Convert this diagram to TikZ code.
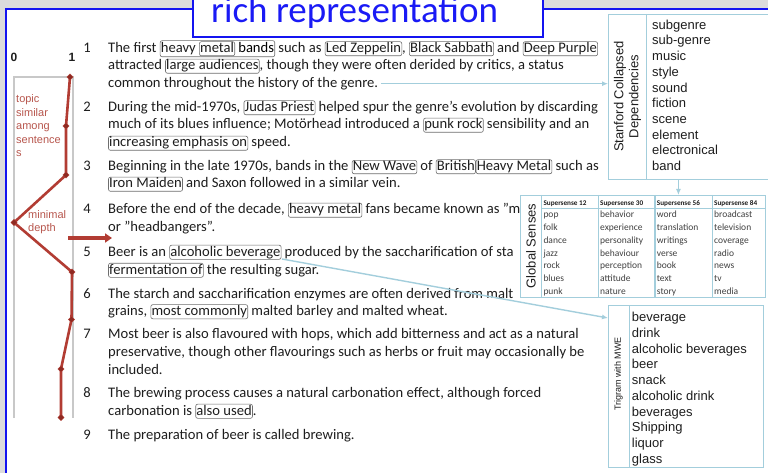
\documentclass[tikz,border=0pt]{standalone}
\usepackage{fontspec}
\setmainfont{Carlito}
\newfontfamily\arialfont{Liberation Sans}
\usepackage{tikz}
\usetikzlibrary{shapes.geometric, arrows.meta, positioning}

\definecolor{slidegray}{HTML}{DCDCDC}
\definecolor{slideblue}{HTML}{1414F0}
\definecolor{titleblue}{HTML}{1A1AF5}
\definecolor{panelblue}{HTML}{A3CEDC}
\definecolor{depthred}{HTML}{B23C33}
\definecolor{markred}{HTML}{8E2A22}
\definecolor{labelred}{HTML}{B8574E}
\definecolor{wordgray}{HTML}{6E6E6E}
\definecolor{axisgray}{HTML}{C8C8C8}
\definecolor{textblack}{HTML}{1E1E1E}

\tikzset{
    wordbox/.style={draw=wordgray, rounded corners=2pt, line width=0.6pt, inner sep=0.7pt, anchor=base},
    sentence/.style={anchor=base west, inner sep=0pt, text=textblack, font=\fontsize{14.6}{17.5}\selectfont},
    sentnum/.style={anchor=base, inner sep=0pt, text=textblack, font=\fontsize{14.6}{17.5}\selectfont},
    redlabel/.style={anchor=base west, inner sep=0pt, text=labelred, font=\arialfont\fontsize{11}{13}\selectfont},
    axisnum/.style={anchor=base, inner sep=0pt, text=textblack, font=\arialfont\bfseries\fontsize{12}{14}\selectfont},
    depthline/.style={depthred, line width=2.6pt, line join=round},
    depthmark/.style={diamond, fill=markred, draw=depthred, line width=0.4pt, inner sep=0pt, minimum size=6.5pt},
    panel/.style={draw=panelblue, fill=white, line width=1.4pt, inner sep=0pt},
    panelline/.style={panelblue, line width=1.4pt},
    sidelabel/.style={rotate=90, inner sep=0pt, text=textblack, font=\arialfont\fontsize{13}{15}\selectfont},
    listword/.style={anchor=base west, inner sep=0pt, text=textblack, font=\arialfont\fontsize{13}{15}\selectfont},
    headword/.style={anchor=base west, inner sep=0pt, text=textblack, font=\bfseries\fontsize{7.2}{8}\selectfont},
    senseword/.style={anchor=base west, inner sep=0pt, text=textblack!85, font=\fontsize{9.5}{11}\selectfont},
    link/.style={panelblue, line width=1.4pt, -{Latex[length=6pt, width=5pt]}},
}

\newcommand{\wbox}[1]{\tikz[baseline=(wb.base)]\node[wordbox](wb){\rule[-2.6pt]{0pt}{10.2pt}#1};}

\begin{document}
\begin{tikzpicture}[x=1pt, y=-1pt]
        \useasboundingbox (0,0) rectangle (768,473);

        % Slide frame
        \fill[slidegray] (0,0) rectangle (768,473);
        \fill[white] (6,9) rectangle (768,473);
        \draw[slideblue, line width=2pt] (6,473) -- (6,9) -- (768,9);

        % Title
        \draw[slideblue, fill=white, line width=1.5pt] (193,-5) rectangle (543,37);
        \node[anchor=base west, inner sep=0pt, text=titleblue, font=\fontsize{37}{40}\selectfont] (title) at (211,22.5) {rich representation};

        % Depth scale
        \coordinate (d1) at (70,77);
        \coordinate (d2) at (66,126);
        \coordinate (d3) at (66,175);
        \coordinate (d4) at (14,222.5);
        \coordinate (d5) at (72,272);
        \coordinate (d6) at (71.5,319.5);
        \coordinate (d7) at (61,369);
        \coordinate (d8) at (61,417.5);
        \coordinate (cut) at (68,238);
        \coordinate (cutend) at (112,238);

        \draw[axisgray, line width=1.3pt] (14,418) -- (14,77) -- (73,77) -- (73,418);
        \node[axisnum] (zero) at (14,62) {0};
        \node[axisnum] (one) at (72,62) {1};

        \draw[depthline] (d1) -- (d2) -- (d3) -- (d4) -- (d5) -- (d6) -- (d7) -- (d8);
        \foreach \d in {1,...,8}
            \node[depthmark] (m\d) at (d\d) {};
        \draw[depthred, line width=3.4pt, -{Triangle[length=7pt, width=9pt]}] (cut) -- (cutend);

        % Depth labels
        \foreach \w [count=\i] in {topic, similar, among, sentence, s}
            \node[redlabel] (topic\i) at (16, {102.7+13.5*(\i-1)}) {\w};
        \node[redlabel] (minimal) at (28,218.3) {minimal};
        \node[redlabel] (depth) at (28,231.7) {depth};

        % Sentences
        \node[sentnum] (n1) at (87,52.5) {1};
        \node[sentence] (l1a) at (108,52.5) {The first \wbox{heavy \wbox{metal} bands} such as \wbox{Led Zeppelin}, \wbox{Black Sabbath} and \wbox{Deep Purple}};
        \node[sentence] (l1b) at (108,70) {attracted \wbox{large audiences}, though they were often derided by critics, a status};
        \node[sentence] (l1c) at (108,87.5) {common throughout the history of the genre.};

        \node[sentnum] (n2) at (87,111.5) {2};
        \node[sentence] (l2a) at (108,111.5) {During the mid-1970s, \wbox{Judas Priest} helped spur the genre's evolution by discarding};
        \node[sentence] (l2b) at (108,129) {much of its blues influence; Motörhead introduced a \wbox{punk rock} sensibility and an};
        \node[sentence] (l2c) at (108,147) {\wbox{increasing emphasis on} speed.};

        \node[sentnum] (n3) at (87,170.5) {3};
        \node[sentence] (l3a) at (108,170.5) {Beginning in the late 1970s, bands in the \wbox{New Wave} of \wbox{British}\wbox{Heavy Metal} such as};
        \node[sentence] (l3b) at (108,188) {\wbox{Iron Maiden} and Saxon followed in a similar vein.};

        \node[sentnum] (n4) at (87,214) {4};
        \node[sentence] (l4a) at (108,214) {Before the end of the decade, \wbox{heavy metal} fans became known as "m};
        \node[sentence] (l4b) at (108,231.5) {or "headbangers".};

        \node[sentnum] (n5) at (87,256) {5};
        \node[sentence] (l5a) at (108,256) {Beer is an \wbox{alcoholic beverage} produced by the saccharification of sta};
        \node[sentence] (l5b) at (108,274) {\wbox{fermentation of} the resulting sugar.};

        \node[sentnum] (n6) at (87,298) {6};
        \node[sentence] (l6a) at (108,298) {The starch and saccharification enzymes are often derived from malt};
        \node[sentence] (l6b) at (108,315.5) {grains, \wbox{most commonly} malted barley and malted wheat.};

        \node[sentnum] (n7) at (87,338) {7};
        \node[sentence] (l7a) at (108,338) {Most beer is also flavoured with hops, which add bitterness and act as a natural};
        \node[sentence] (l7b) at (108,356) {preservative, though other flavourings such as herbs or fruit may occasionally be};
        \node[sentence] (l7c) at (108,374) {included.};

        \node[sentnum] (n8) at (87,397) {8};
        \node[sentence] (l8a) at (108,397) {The brewing process causes a natural carbonation effect, although forced};
        \node[sentence] (l8b) at (108,415) {carbonation is \wbox{also used}.};

        \node[sentnum] (n9) at (87,439) {9};
        \node[sentence] (l9a) at (108,439) {The preparation of beer is called brewing.};

        % Stanford Collapsed Dependencies
        \node[panel, minimum width=182pt, minimum height=165pt, anchor=north west] (sd) at (608,14) {};
        \draw[panelline] ([xshift=38.7pt]sd.north west) -- ([xshift=38.7pt]sd.south west);
        \node[sidelabel, align=center] (sdlab) at (627.5,96.5) {Stanford Collapsed\\Dependencies};
        \foreach \w [count=\i] in {subgenre, sub-genre, music, style, sound, fiction, scene, element, electronical, band}
            \node[listword] (sd\i) at (652, {29.3+15.7*(\i-1)}) {\w};

        % Global Senses
        \node[panel, minimum width=245pt, minimum height=102pt, anchor=north west] (gs) at (520,195) {};
        \foreach \x in {541.7, 598.3, 655, 712.3}
            \draw[panelline] (\x,195) -- (\x,297);
        \draw[panelline] (541.7,208.8) -- (765,208.8);
        \node[sidelabel] (gslab) at (531,246) {Global Senses};
        \foreach \h/\x [count=\c] in {12/543.3, 30/600, 56/656.7, 84/714}
            \node[headword] (gh\c) at (\x,205.5) {Supersense \h};
        \foreach \x/\words [count=\c] in {543.3/{pop,folk,dance,jazz,rock,blues,punk},
                600/{behavior,experience,personality,behaviour,perception,attitude,nature},
                656.7/{word,translation,writings,verse,book,text,story},
                714/{broadcast,television,coverage,radio,news,tv,media}}
            \foreach \w [count=\i] in \words
                \node[senseword] (gs\c-\i) at (\x, {217.8+12.75*(\i-1)}) {\w};

        % Trigram with MWE
        \node[panel, minimum width=154.7pt, minimum height=161.7pt, anchor=north west] (tg) at (608,305) {};
        \draw[panelline] ([xshift=21.3pt]tg.north west) -- ([xshift=21.3pt]tg.south west);
        \node[sidelabel, font=\arialfont\fontsize{9}{11}\selectfont] (tglab) at (618.5,374) {Trigram with MWE};
        \foreach \w [count=\i] in {beverage, drink, alcoholic beverages, beer, snack, alcoholic drink, beverages, Shipping, liquor, glass}
            \node[listword] (tg\i) at (631.7, {321.7+15.73*(\i-1)}) {\w};

        % Links
        \coordinate (alc) at (282,259);
        \draw[link] ([xshift=3pt]l1c.east) -- (l1c.east -| sd.west);
        \draw[link] (sd.south -| gh3) -- (gs.north -| gh3);
        \draw[link] (alc) -- ([yshift=-13pt]tg.north west);

\end{tikzpicture}
\end{document}
